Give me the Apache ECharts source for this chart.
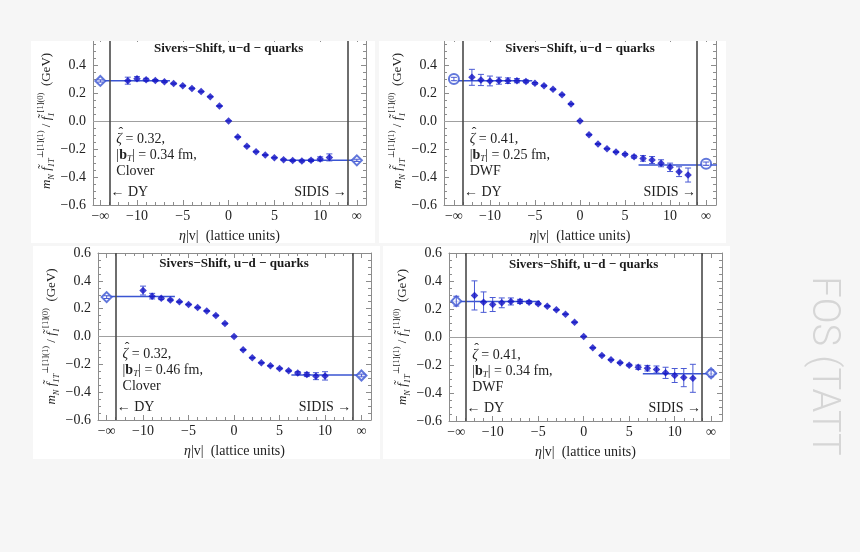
<!DOCTYPE html>
<html><head><meta charset="utf-8">
<script src="https://cdn.jsdelivr.net/npm/echarts@6/dist/echarts.min.js"></script>
<style>html,body{margin:0;padding:0;background:#f6f6f6}#c{width:860px;height:552px}</style>
</head><body><div id="c"></div>
<script>
// ---------------- data ----------------
const xTickVals = [-14, -10, -5, 0, 5, 10, 14];
const xTickLabels = ['\u2212\u221E', '\u221210', '\u22125', '0', '5', '10', '\u221E'];
const xMinorVals = [-13, -12, -11, -9, -8, -7, -6, -4, -3, -2, -1, 1, 2, 3, 4, 6, 7, 8, 9, 11, 12, 13];
const infX = [-14, 14];
const boundaryX = [-13, 13];

// Panel 1: Clover, |bT| = 0.34 fm
const etaP1 = [-11, -10, -9, -8, -7, -6, -5, -4, -3, -2, -1, 0, 1, 2, 3, 4, 5, 6, 7, 8, 9, 10, 11];
const valP1 = [0.288, 0.302, 0.295, 0.290, 0.281, 0.267, 0.252, 0.233, 0.210, 0.174, 0.107, 0.000, -0.114, -0.181, -0.219, -0.243, -0.262, -0.276, -0.283, -0.286, -0.281, -0.271, -0.260];
const errP1 = [0.025, 0.015, 0.010, 0.006, 0.005, 0.004, 0.003, 0.003, 0.003, 0.003, 0.003, 0.002, 0.003, 0.003, 0.003, 0.003, 0.003, 0.004, 0.005, 0.006, 0.008, 0.015, 0.025];
const infValP1 = [0.286, -0.281];
const infErrP1 = [0.008, 0.008];
const fitP1 = [[-14, -6.4, 0.288], [6.3, 14.2, -0.280]];

// Panel 2: DWF, |bT| = 0.25 fm
const etaP2 = [-12, -11, -10, -9, -8, -7, -6, -5, -4, -3, -2, -1, 0, 1, 2, 3, 4, 5, 6, 7, 8, 9, 10, 11, 12];
const valP2 = [0.312, 0.293, 0.286, 0.288, 0.288, 0.288, 0.283, 0.269, 0.252, 0.226, 0.188, 0.121, 0.000, -0.098, -0.164, -0.198, -0.221, -0.238, -0.255, -0.267, -0.279, -0.302, -0.331, -0.362, -0.386];
const errP2 = [0.057, 0.040, 0.035, 0.025, 0.020, 0.015, 0.010, 0.006, 0.004, 0.003, 0.003, 0.003, 0.002, 0.003, 0.003, 0.003, 0.004, 0.006, 0.010, 0.020, 0.025, 0.025, 0.030, 0.035, 0.050];
const infValP2 = [0.300, -0.305];
const infErrP2 = [0.012, 0.012];
const fitP2 = [[-14.2, -5.3, 0.287], [6.5, 15.2, -0.314]];

// Panel 3: Clover, |bT| = 0.46 fm
const etaP3 = [-10, -9, -8, -7, -6, -5, -4, -3, -2, -1, 0, 1, 2, 3, 4, 5, 6, 7, 8, 9, 10];
const valP3 = [0.330, 0.290, 0.275, 0.263, 0.249, 0.230, 0.208, 0.184, 0.151, 0.093, 0.000, -0.096, -0.153, -0.189, -0.211, -0.230, -0.247, -0.263, -0.273, -0.285, -0.283];
const errP3 = [0.032, 0.020, 0.010, 0.006, 0.004, 0.003, 0.003, 0.003, 0.003, 0.003, 0.002, 0.003, 0.003, 0.003, 0.003, 0.004, 0.005, 0.010, 0.015, 0.025, 0.030];
const infValP3 = [0.283, -0.280];
const infErrP3 = [0.010, 0.010];
const fitP3 = [[-14, -6.5, 0.287], [6.3, 14.5, -0.277]];

// Panel 4: DWF, |bT| = 0.34 fm
const etaP4 = [-12, -11, -10, -9, -8, -7, -6, -5, -4, -3, -2, -1, 0, 1, 2, 3, 4, 5, 6, 7, 8, 9, 10, 11, 12];
const valP4 = [0.297, 0.249, 0.232, 0.244, 0.254, 0.254, 0.249, 0.237, 0.220, 0.194, 0.163, 0.105, 0.003, -0.077, -0.132, -0.163, -0.184, -0.201, -0.216, -0.223, -0.232, -0.256, -0.275, -0.290, -0.295];
const errP4 = [0.104, 0.073, 0.050, 0.035, 0.025, 0.015, 0.010, 0.006, 0.004, 0.003, 0.003, 0.003, 0.002, 0.003, 0.003, 0.003, 0.004, 0.006, 0.015, 0.020, 0.025, 0.040, 0.050, 0.065, 0.100];
const infValP4 = [0.256, -0.259];
const infErrP4 = [0.035, 0.025];
const fitP4 = [[-14.5, -4.8, 0.254], [6.5, 14.6, -0.263]];

const zetaText = ['0.32', '0.41', '0.32', '0.41'];
const bTText = ['0.34', '0.25', '0.46', '0.34'];
const actionText = ['Clover', 'DWF', 'Clover', 'DWF'];
const titleText = 'Sivers\u2212Shift, u\u2212d \u2212 quarks';
const xNameText = '{i|\u03B7}|v|  (lattice units)';
const yNameText = '{i|m}{sb|N} {i|f\u0303}{sb|1T}{sp|\u22A5[1](1)} / {i|f\u0303}{sb|1}{sp|[1](0)}  (GeV)';

// ---------------- layout / style ----------------
const FONT = '"Liberation Serif", "DejaVu Serif", serif';
const FS = 14;
const BG = '#f6f6f6';
const FRAME = '#8c8c8c';
const PT = '#1010c4';
const ERR = '#4a5ad4';
const FIT = '#3a55d2';

const panels = [
  {eta: etaP1, val: valP1, err: errP1, infVal: infValP1, infErr: infErrP1, fit: fitP1, openSym: 'emptyDiamond',
   grid: {left: 93, top: 37, width: 273, height: 168}, xMin: -14.8, xMax: 15.0, hideTop: true,
   box: [31, 41, 344, 202]},
  {eta: etaP2, val: valP2, err: errP2, infVal: infValP2, infErr: infErrP2, fit: fitP2, openSym: 'emptyCircle',
   grid: {left: 444, top: 37, width: 272, height: 168}, xMin: -15.1, xMax: 15.1, hideTop: true,
   box: [379, 41, 347, 202]},
  {eta: etaP3, val: valP3, err: errP3, infVal: infValP3, infErr: infErrP3, fit: fitP3, openSym: 'emptyDiamond',
   grid: {left: 98, top: 253, width: 273, height: 167}, xMin: -14.95, xMax: 15.05, hideTop: false,
   box: [33, 246, 347, 213]},
  {eta: etaP4, val: valP4, err: errP4, infVal: infValP4, infErr: infErrP4, fit: fitP4, openSym: 'emptyDiamond',
   grid: {left: 449, top: 253, width: 273, height: 168}, xMin: -14.8, xMax: 15.2, hideTop: false,
   box: [383, 246, 347, 213]}
];

function xLabel(v) {
  const i = xTickVals.indexOf(v);
  return i >= 0 ? xTickLabels[i] : '';
}
function yLabelFn(hideTop) {
  return function (v) {
    if (hideTop && v > 0.55) return '';
    const s = Math.abs(v).toFixed(1);
    return v < -1e-9 ? '\u2212' + s : s;
  };
}

const chart = echarts.init(document.getElementById('c'), null, {renderer: 'canvas'});
const grids = [], xAxes = [], yAxes = [], series = [];

panels.forEach((P, g) => {
  grids.push(Object.assign({containLabel: false}, P.grid));
  const common = {gridIndex: g, type: 'value', min: P.xMin, max: P.xMax, splitLine: {show: false}};
  xAxes.push(Object.assign({}, common, {
    position: 'bottom',
    axisLine: {show: true, onZero: false, lineStyle: {color: FRAME, width: 1}},
    axisTick: {show: true, inside: true, length: 5, customValues: xTickVals, lineStyle: {color: FRAME}},
    axisLabel: {show: true, customValues: xTickVals, formatter: xLabel, color: '#222', fontFamily: FONT, fontSize: FS, margin: 4},
    name: xNameText, nameLocation: 'middle', nameGap: 24,
    nameTextStyle: {color: '#222', fontFamily: FONT, fontSize: FS,
      rich: {i: {fontStyle: 'italic', fontFamily: FONT, fontSize: FS, color: '#222'}}}
  }));
  xAxes.push(Object.assign({}, common, {
    position: 'bottom',
    axisLine: {show: false, onZero: false},
    axisTick: {show: true, inside: true, length: 3, customValues: xMinorVals, lineStyle: {color: FRAME}},
    axisLabel: {show: false}
  }));
  xAxes.push(Object.assign({}, common, {
    position: 'top',
    axisLine: {show: true, onZero: false, lineStyle: {color: FRAME, width: 1}},
    axisTick: {show: true, inside: true, length: 5, customValues: xTickVals, lineStyle: {color: FRAME}},
    axisLabel: {show: false}
  }));
  xAxes.push(Object.assign({}, common, {
    position: 'top',
    axisLine: {show: false, onZero: false},
    axisTick: {show: true, inside: true, length: 3, customValues: xMinorVals, lineStyle: {color: FRAME}},
    axisLabel: {show: false}
  }));
  const yCommon = {gridIndex: g, type: 'value', min: -0.6, max: 0.6, interval: 0.2, splitLine: {show: false},
    axisLine: {show: true, onZero: false, lineStyle: {color: FRAME, width: 1}},
    axisTick: {show: true, inside: true, length: 5, lineStyle: {color: FRAME}},
    minorTick: {show: true, splitNumber: 4, length: 3, lineStyle: {color: FRAME}}};
  yAxes.push(Object.assign({}, yCommon, {
    position: 'left',
    axisLabel: {show: true, formatter: yLabelFn(P.hideTop), color: '#222', fontFamily: FONT, fontSize: FS, margin: 7},
    name: yNameText, nameLocation: 'middle', nameGap: 33, nameRotate: 90,
    nameTextStyle: {color: '#222', fontFamily: FONT, fontSize: 13, lineHeight: 20,
      rich: {
        i: {fontStyle: 'italic', fontFamily: FONT, fontSize: 13, lineHeight: 20, color: '#222'},
        sb: {fontStyle: 'italic', fontFamily: FONT, fontSize: 8.5, lineHeight: 20, verticalAlign: 'bottom', color: '#222'},
        sp: {fontFamily: FONT, fontSize: 8.5, lineHeight: 20, verticalAlign: 'top', color: '#222'}
      }}
  }));
  yAxes.push(Object.assign({}, yCommon, {position: 'right', axisLabel: {show: false}}));

  const xi = g * 4, yi = g * 2;
  P.fit.forEach((f, k) => {
    const s = {
      type: 'line', xAxisIndex: xi, yAxisIndex: yi, data: [[f[0], f[2]], [f[1], f[2]]],
      showSymbol: false, symbol: 'none', lineStyle: {color: FIT, width: 1.4}, z: 3, silent: true
    };
    if (k === 0) {
      s.markLine = {
        silent: true, symbol: ['none', 'none'], label: {show: false}, animation: false,
        data: [
          {yAxis: 0, lineStyle: {color: '#a0a0a0', width: 1, type: 'solid'}},
          {xAxis: boundaryX[0], lineStyle: {color: '#4a4a4a', width: 1.6, type: 'solid'}},
          {xAxis: boundaryX[1], lineStyle: {color: '#4a4a4a', width: 1.6, type: 'solid'}}
        ]
      };
    }
    series.push(s);
  });
  const errData = P.eta.map((x, i) => [x, P.val[i], P.err[i]])
    .concat(infX.map((x, i) => [x, P.infVal[i], P.infErr[i]]));
  series.push({
    type: 'custom', xAxisIndex: xi, yAxisIndex: yi, data: errData, z: 4, silent: true,
    encode: {x: 0, y: 1},
    renderItem: function (params, api) {
      const x = api.value(0), y = api.value(1), e = api.value(2);
      const t = api.coord([x, y + e]), b = api.coord([x, y - e]);
      const w = 3;
      const st = {stroke: ERR, lineWidth: 1};
      return {type: 'group', children: [
        {type: 'line', shape: {x1: t[0], y1: t[1], x2: b[0], y2: b[1]}, style: st},
        {type: 'line', shape: {x1: t[0] - w, y1: t[1], x2: t[0] + w, y2: t[1]}, style: st},
        {type: 'line', shape: {x1: b[0] - w, y1: b[1], x2: b[0] + w, y2: b[1]}, style: st}
      ]};
    }
  });
  series.push({
    type: 'scatter', xAxisIndex: xi, yAxisIndex: yi, data: infX.map((x, i) => [x, P.infVal[i]]),
    symbol: P.openSym, symbolSize: 10, itemStyle: {color: FIT, borderWidth: 1.3}, z: 3, silent: true
  });
  series.push({
    type: 'scatter', xAxisIndex: xi, yAxisIndex: yi, data: P.eta.map((x, i) => [x, P.val[i]]),
    symbol: 'diamond', symbolSize: 7.5, itemStyle: {color: PT}, z: 5, silent: true
  });
});

const bgRects = panels.map(P => ({
  type: 'rect', shape: {x: P.box[0], y: P.box[1], width: P.box[2], height: P.box[3]},
  style: {fill: '#ffffff'}, z: -10, silent: true
}));

chart.setOption({
  backgroundColor: BG,
  animation: false,
  grid: grids, xAxis: xAxes, yAxis: yAxes, series: series,
  graphic: {elements: bgRects}
});

const texts = [];
panels.forEach((P, g) => {
  const finder = {xAxisIndex: g * 4, yAxisIndex: g * 2};
  const tp = chart.convertToPixel(finder, [0, 0.52]);
  texts.push({type: 'text', x: tp[0], y: tp[1], z: 50, silent: true,
    style: {text: titleText, fill: '#1a1a1a', fontFamily: FONT, fontSize: 13, fontWeight: 'bold', align: 'center', verticalAlign: 'middle'}});
  const ap = chart.convertToPixel(finder, [-12.25, -0.13]);
  const rich = {
    n: {fontFamily: FONT, fontSize: FS, lineHeight: 16, fill: '#222'},
    i: {fontFamily: FONT, fontSize: FS, fontStyle: 'italic', lineHeight: 16, fill: '#222'},
    b: {fontFamily: FONT, fontSize: FS, fontWeight: 'bold', lineHeight: 16, fill: '#222'},
    sb: {fontFamily: FONT, fontSize: 9, fontStyle: 'italic', lineHeight: 16, verticalAlign: 'bottom', fill: '#222'}
  };
  const txt = '{i|\u03B6}{n| = ' + zetaText[g] + ',}\n{n||}{b|b}{sb|T}{n|| = ' + bTText[g] + ' fm,}\n{n|' + actionText[g] + '}';
  texts.push({type: 'text', x: ap[0], y: ap[1] - 8, z: 50, silent: true,
    style: {text: txt, rich: rich, fontFamily: FONT, fontSize: FS, lineHeight: 16, fill: '#222', align: 'left', verticalAlign: 'top'}});
  // circumflex accent over zeta
  texts.push({type: 'text', x: ap[0] + 4.5, y: ap[1] - 13, z: 51, silent: true,
    style: {text: '\u02C6', fill: '#222', fontFamily: FONT, fontSize: FS, align: 'center', verticalAlign: 'top'}});
  const dy = chart.convertToPixel(finder, [boundaryX[0], -0.51]);
  texts.push({type: 'text', x: dy[0] + 1, y: dy[1], z: 50, silent: true,
    style: {text: '\u2190 DY', fill: '#222', fontFamily: FONT, fontSize: FS, align: 'left', verticalAlign: 'middle'}});
  const si = chart.convertToPixel(finder, [boundaryX[1], -0.51]);
  texts.push({type: 'text', x: si[0] - 1, y: si[1], z: 50, silent: true,
    style: {text: 'SIDIS \u2192', fill: '#222', fontFamily: FONT, fontSize: FS, align: 'right', verticalAlign: 'middle'}});
});
texts.push({type: 'rect', shape: {x: 0, y: 0, width: 860, height: 41}, style: {fill: BG}, z: 100, silent: true});
texts.push({type: 'text', x: 822, y: 366, rotation: -Math.PI / 2, z: 100, silent: true,
  style: {text: 'FOS (TATT', fill: '#d6d6d6', fontFamily: 'Roboto, "DejaVu Sans", sans-serif', fontWeight: 300, fontSize: 38, align: 'center', verticalAlign: 'middle'}});

chart.setOption({graphic: {elements: bgRects.concat(texts)}});
</script>
</body></html>
